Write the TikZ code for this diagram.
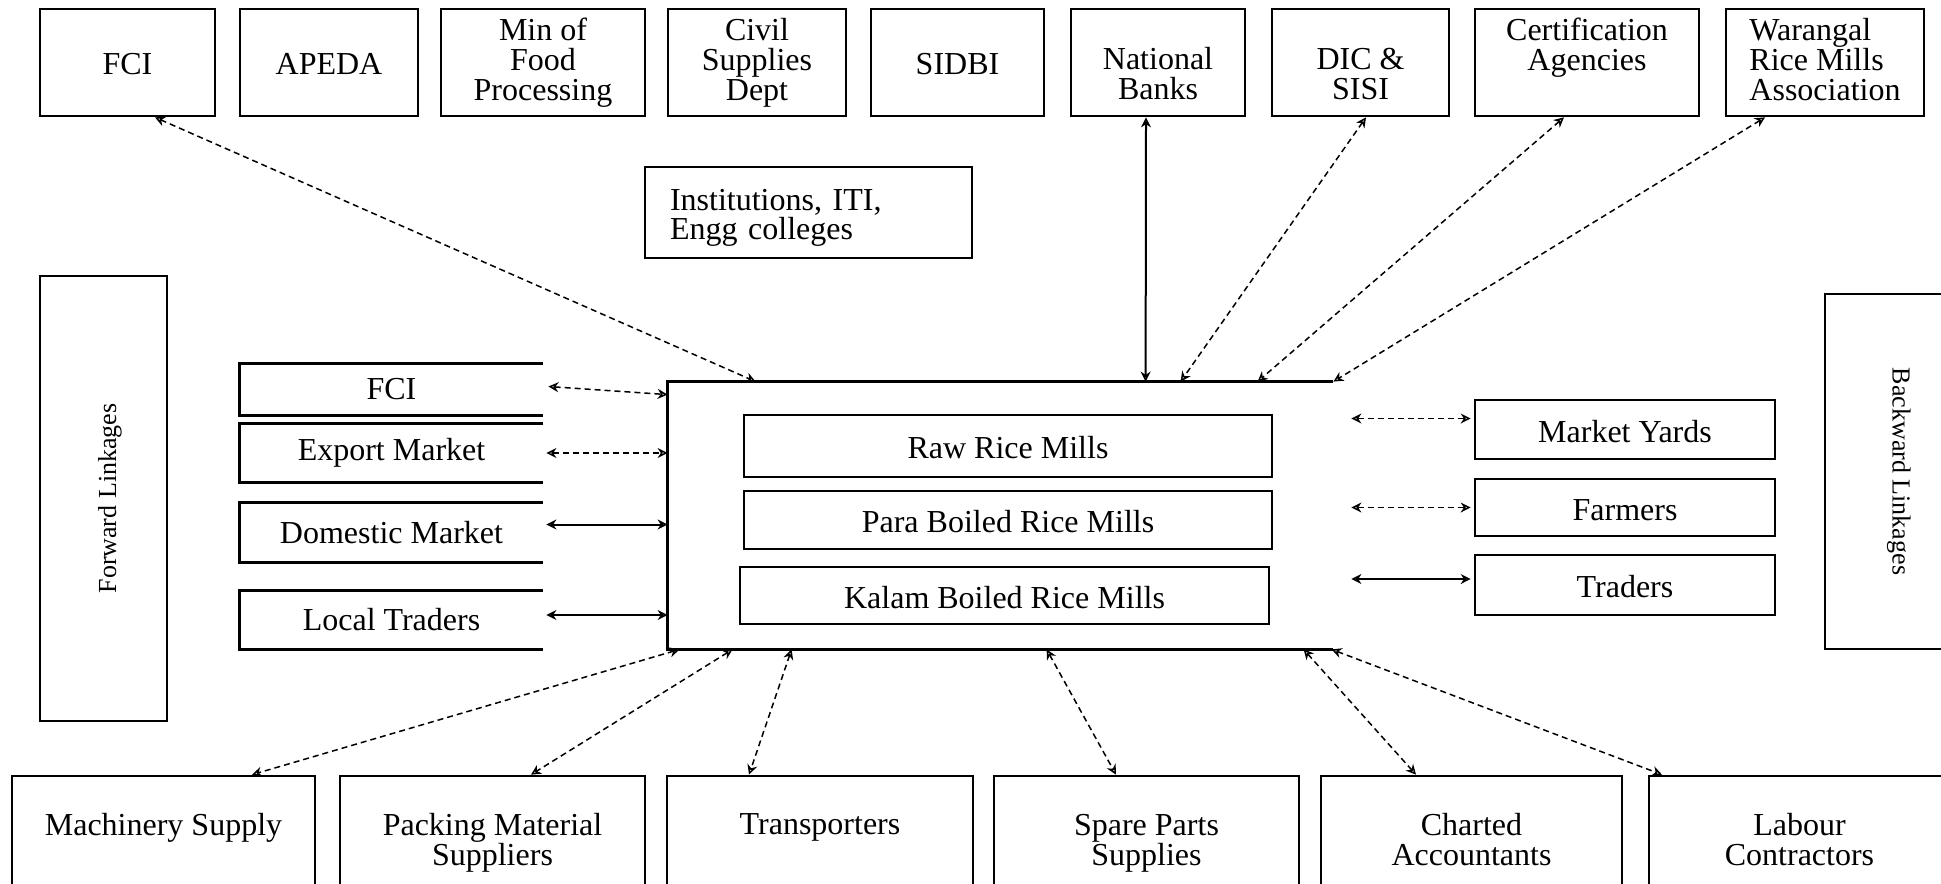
\documentclass[tikz,border=0pt]{standalone}
\usepackage{fontspec}
\setmainfont{Liberation Serif}
\usetikzlibrary{calc,arrows.meta}
\newcommand\pxunit{0.5pt}
\newcommand\topstrut{\rule{0pt}{16pt}}
\newcommand\botstrut{\rule[-3.5pt]{0pt}{3.5pt}}

\begin{document}
\begin{tikzpicture}[x=0.5pt,y=-0.5pt,
    box/.style={draw, line width=1.35pt, inner sep=0pt, align=center, font=\fontsize{16}{15}\selectfont,
      execute at begin node=\topstrut, execute at end node=\botstrut},
    nobox/.style={inner sep=0pt, align=center, font=\fontsize{16}{15}\selectfont},
    wh/.style 2 args={minimum width=#1*\pxunit, minimum height=#2*\pxunit},
    link/.style={<->, line width=0.75pt, densely dashed},
    solidlink/.style={<->, line width=1pt},
    >={Stealth[open,length=5pt,width=5pt]}]
    \path[use as bounding box] (0,0) rectangle (1941,883);
    \clip (0,0) rectangle (1941,883);

    \node[box, wh={175}{107}] (tFCI) at (127.5,62.5) {FCI};
    \node[box, wh={178}{107}] (tAPEDA) at (329,62.5) {APEDA};
    \node[box, wh={204}{107}] (tMin) at (543,62.5) {Min of\\Food\\Processing};
    \node[box, wh={178}{107}] (tCivil) at (757,62.5) {Civil\\Supplies\\Dept};
    \node[box, wh={173}{107}] (tSIDBI) at (957.5,62.5) {SIDBI};
    \node[box, wh={174}{107}] (tBanks) at (1158,62.5) {\phantom{X}\\National\\Banks};
    \node[box, wh={177}{107}] (tDIC) at (1360.5,62.5) {\phantom{X}\\DIC \&\\SISI};
    \node[box, wh={224}{107}] (tCert) at (1587,62.5) {Certification\\Agencies\\\phantom{g}};
    \node[box, wh={198}{107}, align=left] (tWar) at (1825,62.5) {Warangal\\Rice Mills\\Association};

    \node[box, text width=138.5pt, inner xsep=12.5pt, minimum height=91*\pxunit, align=left,
      font=\fontsize{16}{14.5}\selectfont] (inst) at (808.5,212.5) {Institutions, ITI,\\Engg colleges};

    \node[box, rotate=90, wh={445}{127}, font=\fontsize{13}{13}\selectfont] (fwd) at (103.5,498.5) {Forward Linkages};
    \node[box, rotate=-90, wh={355}{160}, font=\fontsize{13}{13}\selectfont] (bwd) at (1905,471.5) {Backward Linkages};

    \node[inner sep=0pt, wh={665}{267}] (main) at (1000.5,515.5) {};
    \node[box, wh={528}{62}] (mRaw) at (1008,446) {Raw Rice Mills};
    \node[box, wh={528}{58}] (mPara) at (1008,520) {Para Boiled Rice Mills};
    \node[box, wh={529}{57}] (mKalam) at (1004.5,595.5) {Kalam Boiled Rice Mills};

    \node[nobox, wh={303}{51}] (lFCI) at (391.5,389.5) {FCI};
    \node[nobox, wh={303}{58}] (lExport) at (391.5,453) {Export Market};
    \node[nobox, wh={303}{59}] (lDomestic) at (391.5,532.5) {Domestic Market};
    \node[nobox, wh={303}{58}] (lLocal) at (391.5,620) {Local Traders};
    \foreach \n in {main,lFCI,lExport,lDomestic,lLocal}
      \draw[line width=1.35pt] (\n.north east) -- (\n.north west) -- (\n.south west) -- (\n.south east);

    \node[box, wh={300}{59}] (rYards) at (1625,429.5) {Market Yards};
    \node[box, wh={300}{57}] (rFarmers) at (1625,507.5) {Farmers};
    \node[box, wh={300}{60}] (rTraders) at (1625,585) {Traders};

    \node[box, wh={303}{134}] (bMach) at (163.5,843) {Machinery Supply\\\phantom{g}};
    \node[box, wh={305}{134}] (bPack) at (492.5,843) {Packing Material\\Suppliers};
    \node[box, wh={306}{134}] (bTrans) at (820,843) {Transporters\\\phantom{g}};
    \node[box, wh={305}{134}] (bSpare) at (1146.5,843) {Spare Parts\\Supplies};
    \node[box, wh={301}{134}] (bChart) at (1471.5,843) {Charted\\Accountants};
    \node[box, wh={301}{134}] (bLabour) at (1799.5,843) {Labour\\Contractors};

    \draw[link] ($(tFCI.south)+(27.5,0)$) -- ($(main.north west)+(88,0)$);
    \draw[solidlink] ($(tBanks.south)+(-12,0)$) -- ($(main.north west)+(478,0)$);
    \draw[link] ($(tDIC.south)+(5.5,0)$) -- ($(main.north west)+(513,0)$);
    \draw[link] ($(tCert.south)+(-23,0)$) -- ($(main.north west)+(590,0)$);
    \draw[link] ($(tWar.south)+(-60,0)$) -- (main.north east);

    \draw[link] ($(lFCI.east)+(5,-3)$) -- ($(main.north west)+(0,13)$);
    \draw[link] ($(lExport.east)+(3,0)$) -- (main.west |- lExport.east);
    \draw[solidlink] ($(lDomestic.east)+(3,-8)$) -- ($(main.west |- lDomestic.east)+(0,-8)$);
    \draw[solidlink] ($(lLocal.east)+(3,-5)$) -- ($(main.west |- lLocal.east)+(0,-5)$);

    \draw[link] ($(main.east |- rYards.west)+(18,-11)$) -- ($(rYards.west)+(-3,-11)$);
    \draw[link] ($(main.east |- rFarmers.west)+(18,0)$) -- ($(rFarmers.west)+(-3,0)$);
    \draw[solidlink] ($(main.east |- rTraders.west)+(18,-6)$) -- ($(rTraders.west)+(-3,-6)$);

    \draw[link] ($(main.south west)+(12,0)$) -- ($(bMach.north)+(88.5,0)$);
    \draw[link] ($(main.south west)+(65,0)$) -- ($(bPack.north)+(38.5,0)$);
    \draw[link] ($(main.south west)+(124,0)$) -- ($(bTrans.north)+(-71,0)$);
    \draw[link] ($(main.south west)+(379,0)$) -- ($(bSpare.north)+(-30.5,0)$);
    \draw[link] ($(main.south west)+(636,0)$) -- ($(bChart.north)+(-55.5,0)$);
    \draw[link] ($(main.south west)+(664,0)$) -- ($(bLabour.north)+(-137.5,0)$);
\end{tikzpicture}
\end{document}
